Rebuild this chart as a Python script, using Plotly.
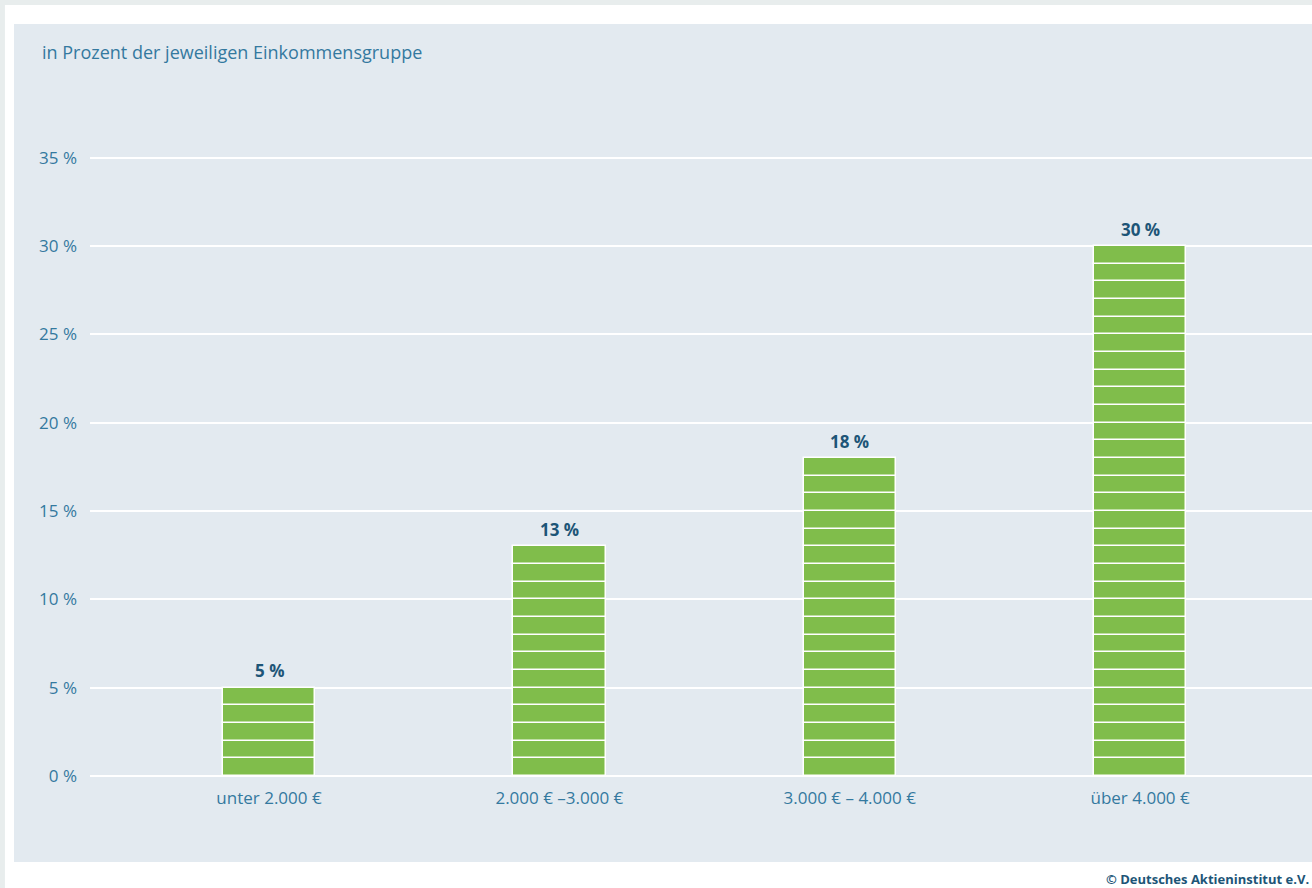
import plotly.graph_objects as go

categories = ["unter 2.000 €", "2.000 € –3.000 €", "3.000 € – 4.000 €", "über 4.000 €"]
values = [5, 13, 18, 30]
tick_vals = [0, 5, 10, 15, 20, 25, 30, 35]
tick_text = ["0 %", "5 %", "10 %", "15 %", "20 %", "25 %", "30 %", "35 %"]
title_text = "in Prozent der jeweiligen Einkommensgruppe"
source_text = "© Deutsches Aktieninstitut e.V."

FONT = "Open Sans"
PANEL = "#e3eaf0"
GREEN = "#80bd4b"
TEAL = "#34799f"
DARK = "#1d5577"

# each bar drawn as a stack of 1-%-units separated by white lines
seg_x, seg_base = [], []
for i, v in enumerate(values):
    for k in range(v):
        seg_x.append(i)
        seg_base.append(k)

fig = go.Figure()
fig.add_trace(go.Bar(
    x=seg_x, y=[1] * len(seg_x), base=seg_base,
    width=0.318, marker=dict(color=GREEN, line=dict(color="white", width=1.5)),
    hoverinfo="skip", showlegend=False,
))

annotations = [
    dict(x=i, y=v, xref="x", yref="y", text=f"{v} %", showarrow=False,
         yanchor="middle", yshift=17,
         font=dict(family=FONT, size=17, color=DARK, weight="bold"))
    for i, v in enumerate(values)
]
annotations += [
    dict(text=title_text, xref="paper", yref="paper", x=-0.0409, y=1.1364,
         xanchor="left", yanchor="middle", showarrow=False,
         font=dict(family=FONT, size=18, color=TEAL)),
    dict(text=source_text, xref="paper", yref="paper", x=0.9992, y=-0.1457,
         xanchor="right", yanchor="middle", showarrow=False,
         font=dict(family=FONT, size=13, color=DARK, weight="bold")),
]

fig.update_layout(
    width=1312, height=888,
    margin=dict(l=90, r=0, t=140, b=103),
    paper_bgcolor="#e8eded",
    plot_bgcolor=PANEL,
    barmode="overlay",
    bargap=0,
    font=dict(family=FONT, color=TEAL, size=17),
    xaxis=dict(
        range=[-0.6165, 3.592], tickmode="array",
        tickvals=list(range(len(categories))), ticktext=categories,
        showgrid=False, zeroline=False, showline=False, ticks="",
        ticklabelstandoff=1,
        tickfont=dict(family=FONT, size=17, color=TEAL),
    ),
    yaxis=dict(
        range=[-0.5, 36], tickmode="array", tickvals=tick_vals, ticktext=tick_text,
        showgrid=True, gridcolor="white", gridwidth=2, zeroline=False,
        showline=False, ticks="", ticklabelstandoff=12,
        tickfont=dict(family=FONT, size=17, color=TEAL),
    ),
    shapes=[
        dict(type="rect", xref="paper", yref="paper", x0=-0.0696, x1=1.01, y0=-0.2, y1=1.2093,
             fillcolor="white", line=dict(width=0), layer="below"),
        dict(type="rect", xref="paper", yref="paper", x0=-0.0622, x1=1.01, y0=-0.1194, y1=1.1798,
             fillcolor=PANEL, line=dict(width=0), layer="below"),
    ],
    annotations=annotations,
)

fig.write_html("out.html", config={"displayModeBar": False},
               post_script="document.body.style.margin='0';document.body.style.padding='0';")
